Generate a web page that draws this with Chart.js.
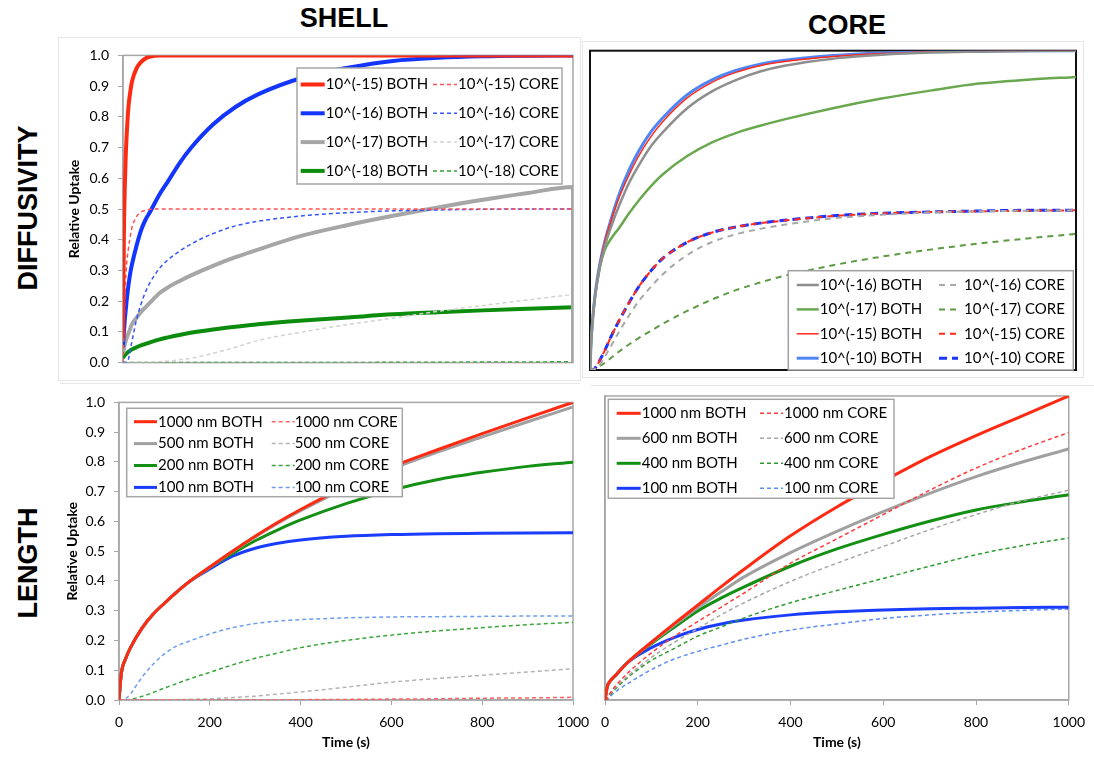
<!DOCTYPE html>
<html>
<head>
<meta charset="utf-8">
<script src="https://cdn.jsdelivr.net/npm/chart.js@4.4.1/dist/chart.umd.min.js"></script>
<style>
  html, body { margin: 0; padding: 0; background: #fff; }
  body { width: 1094px; height: 763px; position: relative; overflow: hidden;
         font-family: "Liberation Sans", Arial, sans-serif; }
  canvas { position: absolute; }
  .head { position: absolute; font-weight: bold; font-size: 27px; line-height: 1;
          color: #000; transform: translateX(-50%); white-space: nowrap; }
  .rowhead { position: absolute; font-weight: bold; font-size: 27px; line-height: 1;
             color: #000; transform: translate(-50%, -50%) rotate(-90deg); white-space: nowrap; }
  .sep { position: absolute; border: 1px solid #e6e6e6; box-sizing: border-box; }
  .hline { position: absolute; height: 0; border-top: 1px solid #e6e6e6; }
</style>
</head>
<body>
<div class="sep" style="left:58px; top:37px; width:523px; height:344px;"></div>
<div class="sep" style="left:582px; top:41px; width:502px; height:337px;"></div>
<div class="hline" style="left:60px; top:383px; width:520px;"></div>
<div class="hline" style="left:590px; top:385px; width:504px;"></div>

<div class="head" style="left:344px; top:5px;">SHELL</div>
<div class="head" style="left:847px; top:12px;">CORE</div>
<div class="rowhead" style="left:28px; top:208px;">DIFFUSIVITY</div>
<div class="rowhead" style="left:28px; top:563px;">LENGTH</div>

<canvas id="shellDiff" width="520" height="342" style="left:60px; top:38px;"></canvas>
<canvas id="coreDiff" width="514" height="342" style="left:580px; top:38px;"></canvas>
<canvas id="shellLen" width="540" height="378" style="left:60px; top:385px;"></canvas>
<canvas id="coreLen" width="504" height="378" style="left:590px; top:385px;"></canvas>

<script>
// ---------- Diffusivity study, shell-limited particles (time in s, relative uptake) ----------
const shellDiffTime = [0, 2, 4, 6, 8, 12, 16, 20, 30, 40, 50, 60, 80, 100, 125, 150, 200, 250, 300, 400, 500, 600, 700, 800, 900, 1000];
const shellD15Both = [0.08, 0.42, 0.57, 0.67, 0.735, 0.83, 0.88, 0.915, 0.958, 0.978, 0.99, 0.996, 1, 1, 1, 1, 1, 1, 1, 1, 1, 1, 1, 1, 1, 1];
const shellD15Core = [0, 0.08, 0.2, 0.27, 0.32, 0.37, 0.41, 0.44, 0.475, 0.49, 0.496, 0.499, 0.5, 0.5, 0.5, 0.5, 0.5, 0.5, 0.5, 0.5, 0.5, 0.5, 0.5, 0.5, 0.5, 0.5];
const shellD16Both = [0.05, 0.1, 0.14, 0.17, 0.2, 0.25, 0.29, 0.32, 0.38, 0.43, 0.465, 0.49, 0.545, 0.59, 0.648, 0.697, 0.775, 0.832, 0.873, 0.928, 0.96, 0.982, 0.992, 0.997, 0.999, 1];
const shellD16Core = [0, 0, 0, 0, 0, 0.01, 0.04, 0.07, 0.14, 0.19, 0.23, 0.26, 0.305, 0.335, 0.362, 0.385, 0.42, 0.445, 0.46, 0.478, 0.488, 0.494, 0.497, 0.499, 0.5, 0.5];
// the 10^(-17) BOTH trace closes with a drop back to zero at t = 1000 s
const shellD17Time = [0, 2, 4, 6, 8, 12, 16, 20, 30, 40, 50, 60, 80, 100, 125, 150, 200, 250, 300, 400, 500, 600, 700, 800, 900, 1000, 1000];
const shellD17Both = [0.03, 0.045, 0.06, 0.07, 0.08, 0.095, 0.11, 0.125, 0.145, 0.165, 0.18, 0.195, 0.225, 0.245, 0.265, 0.283, 0.315, 0.343, 0.368, 0.414, 0.448, 0.478, 0.505, 0.53, 0.552, 0.572, 0];
const shellD17Core = [0, 0, 0, 0, 0, 0, 0, 0, 0, 0, 0, 0.001, 0.003, 0.005, 0.009, 0.014, 0.03, 0.05, 0.072, 0.1, 0.124, 0.145, 0.167, 0.186, 0.204, 0.222];
const shellD18Both = [0.015, 0.02, 0.024, 0.027, 0.03, 0.035, 0.039, 0.043, 0.05, 0.056, 0.061, 0.066, 0.075, 0.082, 0.09, 0.097, 0.108, 0.117, 0.125, 0.137, 0.147, 0.157, 0.164, 0.17, 0.175, 0.18];
const shellD18Core = [0, 0, 0, 0, 0, 0, 0, 0, 0, 0, 0, 0, 0, 0, 0, 0, 0, 0, 0, 0, 0, 0.001, 0.001, 0.002, 0.002, 0.003];

// ---------- Diffusivity study, core-limited particles ----------
const coreDiffTime = [0, 2, 5, 10, 20, 30, 45, 60, 80, 100, 125, 150, 200, 250, 300, 350, 400, 500, 600, 700, 800, 900, 1000];
const coreD16Both = [0, 0.08, 0.15, 0.225, 0.32, 0.385, 0.455, 0.515, 0.585, 0.64, 0.7, 0.745, 0.82, 0.872, 0.908, 0.935, 0.953, 0.975, 0.987, 0.994, 0.997, 0.999, 1];
const coreD16Core = [0, 0, 0, 0.003, 0.015, 0.04, 0.08, 0.12, 0.17, 0.215, 0.26, 0.3, 0.36, 0.4, 0.425, 0.442, 0.455, 0.475, 0.486, 0.493, 0.497, 0.499, 0.5];
const coreD17Both = [0, 0.08, 0.15, 0.225, 0.32, 0.375, 0.415, 0.445, 0.49, 0.53, 0.575, 0.613, 0.67, 0.712, 0.742, 0.765, 0.785, 0.82, 0.85, 0.875, 0.897, 0.909, 0.918];
const coreD17Core = [0, 0, 0, 0.002, 0.012, 0.022, 0.04, 0.058, 0.08, 0.1, 0.122, 0.145, 0.185, 0.22, 0.25, 0.274, 0.295, 0.328, 0.355, 0.377, 0.396, 0.412, 0.426];
const coreD15Both = [0, 0.08, 0.15, 0.23, 0.33, 0.4, 0.475, 0.54, 0.61, 0.67, 0.73, 0.778, 0.852, 0.9, 0.932, 0.953, 0.966, 0.982, 0.991, 0.996, 0.998, 0.999, 1];
const coreD15Core = [0, 0, 0, 0.005, 0.03, 0.06, 0.11, 0.155, 0.21, 0.26, 0.31, 0.35, 0.4, 0.43, 0.448, 0.46, 0.468, 0.482, 0.49, 0.495, 0.497, 0.499, 0.5];
const coreD10Both = [0, 0.08, 0.15, 0.23, 0.33, 0.4, 0.48, 0.55, 0.625, 0.685, 0.745, 0.79, 0.862, 0.908, 0.938, 0.958, 0.97, 0.985, 0.993, 0.997, 0.999, 1, 1];
const coreD10Core = [0, 0, 0, 0.005, 0.03, 0.06, 0.11, 0.155, 0.21, 0.26, 0.31, 0.35, 0.4, 0.43, 0.448, 0.46, 0.469, 0.483, 0.491, 0.495, 0.498, 0.5, 0.5];

// ---------- Particle length study, shell-limited ----------
const shellLenTime = [0, 5, 15, 25, 50, 75, 100, 125, 150, 200, 250, 300, 350, 400, 500, 600, 700, 800, 900, 1000];
const shellL1000Both = [0, 0.088, 0.14, 0.175, 0.24, 0.288, 0.325, 0.36, 0.392, 0.447, 0.5, 0.55, 0.597, 0.64, 0.718, 0.783, 0.84, 0.895, 0.948, 1];
const shellL1000Core = [0, 0, 0, 0, 0, 0, 0, 0, 0, 0, 0, 0, 0, 0.001, 0.002, 0.003, 0.004, 0.006, 0.007, 0.009];
const shellL500Both = [0, 0.088, 0.14, 0.175, 0.24, 0.288, 0.325, 0.36, 0.392, 0.446, 0.499, 0.548, 0.594, 0.636, 0.712, 0.776, 0.832, 0.884, 0.935, 0.985];
const shellL500Core = [0, 0, 0, 0, 0, 0, 0, 0.001, 0.002, 0.004, 0.008, 0.013, 0.02, 0.027, 0.043, 0.06, 0.072, 0.083, 0.094, 0.105];
const shellL200Both = [0, 0.088, 0.14, 0.175, 0.24, 0.288, 0.325, 0.36, 0.392, 0.445, 0.492, 0.535, 0.572, 0.605, 0.66, 0.705, 0.74, 0.765, 0.785, 0.799];
const shellL200Core = [0, 0, 0, 0.002, 0.012, 0.025, 0.04, 0.054, 0.068, 0.093, 0.118, 0.14, 0.158, 0.176, 0.2, 0.218, 0.232, 0.243, 0.253, 0.261];
const shellL100Both = [0, 0.088, 0.14, 0.175, 0.24, 0.288, 0.325, 0.36, 0.392, 0.44, 0.483, 0.51, 0.527, 0.538, 0.55, 0.556, 0.559, 0.56, 0.561, 0.562];
const shellL100Core = [0, 0, 0.005, 0.02, 0.075, 0.12, 0.155, 0.18, 0.195, 0.222, 0.243, 0.257, 0.265, 0.27, 0.276, 0.279, 0.28, 0.281, 0.282, 0.282];

// ---------- Particle length study, core-limited ----------
const coreLenTime = [0, 5, 10, 25, 50, 100, 150, 200, 250, 300, 400, 500, 600, 700, 800, 900, 1000];
const coreL1000Both = [0, 0.045, 0.06, 0.085, 0.125, 0.19, 0.252, 0.312, 0.372, 0.43, 0.54, 0.635, 0.72, 0.8, 0.87, 0.935, 1];
const coreL1000Core = [0, 0.005, 0.02, 0.05, 0.09, 0.155, 0.21, 0.258, 0.305, 0.352, 0.45, 0.53, 0.61, 0.69, 0.763, 0.825, 0.88];
const coreL600Both = [0, 0.045, 0.06, 0.085, 0.125, 0.188, 0.247, 0.303, 0.355, 0.405, 0.485, 0.555, 0.62, 0.68, 0.735, 0.783, 0.826];
const coreL600Core = [0, 0.005, 0.018, 0.045, 0.08, 0.14, 0.19, 0.235, 0.28, 0.32, 0.39, 0.45, 0.505, 0.56, 0.61, 0.655, 0.69];
const coreL400Both = [0, 0.045, 0.06, 0.085, 0.125, 0.185, 0.24, 0.293, 0.335, 0.372, 0.44, 0.497, 0.545, 0.588, 0.625, 0.652, 0.675];
const coreL400Core = [0, 0.004, 0.015, 0.04, 0.075, 0.13, 0.17, 0.21, 0.24, 0.27, 0.32, 0.36, 0.4, 0.44, 0.478, 0.508, 0.533];
const coreL100Both = [0, 0.045, 0.06, 0.085, 0.125, 0.172, 0.206, 0.232, 0.25, 0.263, 0.28, 0.29, 0.296, 0.3, 0.302, 0.304, 0.305];
const coreL100Core = [0, 0.003, 0.01, 0.03, 0.055, 0.1, 0.135, 0.16, 0.18, 0.2, 0.23, 0.25, 0.268, 0.28, 0.289, 0.295, 0.299];

// Axis tick values
const yTickValues = [0, 0.1, 0.2, 0.3, 0.4, 0.5, 0.6, 0.7, 0.8, 0.9, 1.0];
const timeTickValues = [0, 200, 400, 600, 800, 1000];

// ---------- drawing helpers ----------
Chart.defaults.font.family = 'Lato, "Liberation Sans", sans-serif';
Chart.defaults.color = '#000';
Chart.defaults.animation = false;

// Plot-area frame
const frame = {
  id: 'frame',
  beforeDatasetsDraw(chart, args, o) {
    if (!o || !o.color) return;
    const a = chart.chartArea, c = chart.ctx;
    c.save();
    c.strokeStyle = o.color;
    c.lineWidth = o.width;
    c.strokeRect(a.left, a.top, a.right - a.left, a.bottom - a.top);
    c.restore();
  }
};

// Two-column legend: each row holds a BOTH / CORE pair
const pairLegend = {
  id: 'pairLegend',
  afterDatasetsDraw(chart, args, o) {
    if (!o || !o.box) return;
    const c = chart.ctx, b = o.box;
    c.save();
    c.fillStyle = '#fff';
    c.fillRect(b.x, b.y, b.w, b.h);
    c.strokeStyle = o.borderColor;
    c.lineWidth = o.borderWidth;
    c.strokeRect(b.x, b.y, b.w, b.h);
    c.font = o.font;
    c.textBaseline = 'middle';
    chart.data.datasets.forEach((ds, i) => {
      const row = Math.floor(i / 2), col = i % 2;
      const y = o.rowY + row * o.rowPitch;
      const x = o.colX[col];
      c.strokeStyle = ds.borderColor;
      c.lineWidth = ds.borderWidth;
      c.setLineDash(ds.borderDash || []);
      c.beginPath();
      c.moveTo(x, y);
      c.lineTo(x + o.sampleW[col], y);
      c.stroke();
      c.setLineDash([]);
      c.fillStyle = '#000';
      c.textAlign = 'left';
      c.fillText(ds.label, x + o.sampleW[col] + o.gap[col], y);
    });
    c.restore();
  }
};
Chart.register(frame, pairLegend);

function pts(times, values) {
  return times.map((t, i) => ({ x: t, y: values[i] }));
}

function line(label, times, values, color, width, dash) {
  return {
    label, data: pts(times, values),
    borderColor: color, borderWidth: width, borderDash: dash || [],
    pointRadius: 0, fill: false,
    cubicInterpolationMode: 'monotone', tension: 0.4
  };
}

const tickFont = { size: 14, family: 'Lato' };
const titleFont = { size: 14, weight: 'bold', family: 'Lato' };
const axisGrey = '#a6a6a6';

function valueAxis(showLabels, width, titlePad) {
  return {
    type: 'linear', min: 0, max: 1,
    afterBuildTicks: s => { s.ticks = yTickValues.map(v => ({ value: v })); },
    afterFit: s => { s.width = width; },
    ticks: {
      display: showLabels, font: tickFont, padding: 9,
      callback: v => Number(v).toFixed(1)
    },
    grid: { display: showLabels, drawOnChartArea: false, drawTicks: showLabels,
            tickLength: 5, color: axisGrey },
    border: { display: true, color: axisGrey, width: 1.5 },
    title: { display: showLabels, text: 'Relative Uptake', font: titleFont,
             padding: { top: titlePad, bottom: 0 } }
  };
}

function timeAxis(height) {
  return {
    type: 'linear', min: 0, max: 1000,
    afterBuildTicks: s => { s.ticks = timeTickValues.map(v => ({ value: v })); },
    afterFit: s => { s.height = height; },
    ticks: { font: tickFont, padding: 9, maxRotation: 0, callback: v => String(v) },
    grid: { drawOnChartArea: false, drawTicks: true, tickLength: 5, color: axisGrey },
    border: { display: true, color: axisGrey, width: 1.5 },
    title: { display: true, text: 'Time (s)', font: titleFont, padding: { top: 0, bottom: 12 } }
  };
}

function hiddenTime() {
  return { type: 'linear', min: 0, max: 1000, display: false };
}

function makeChart(id, datasets, scales, padding, frameOpts, legendOpts) {
  return new Chart(document.getElementById(id), {
    type: 'line',
    data: { datasets },
    options: {
      responsive: false, devicePixelRatio: 1, animation: false,
      layout: { padding },
      scales,
      plugins: {
        legend: { display: false }, tooltip: { enabled: false },
        frame: frameOpts, pairLegend: legendOpts
      }
    }
  });
}

const legendFont = '15px Lato';

// Shell, diffusivity
const red1 = '#ff2a12', blue1 = '#1235ff', grey1 = '#a6a6a6', green1 = '#0c8c0c';
makeChart('shellDiff', [
  line('10^(-15) BOTH', shellDiffTime, shellD15Both, red1, 4),
  line('10^(-15) CORE', shellDiffTime, shellD15Core, '#ff5050', 1.5, [4, 3]),
  line('10^(-16) BOTH', shellDiffTime, shellD16Both, blue1, 4),
  line('10^(-16) CORE', shellDiffTime, shellD16Core, '#3355ff', 1.5, [4, 3]),
  line('10^(-17) BOTH', shellD17Time, shellD17Both, grey1, 4),
  line('10^(-17) CORE', shellDiffTime, shellD17Core, '#d2d2d2', 1.5, [4, 3]),
  line('10^(-18) BOTH', shellDiffTime, shellD18Both, green1, 4),
  line('10^(-18) CORE', shellDiffTime, shellD18Core, '#33a033', 1.5, [4, 3])
], { x: hiddenTime(), y: valueAxis(true, 63, 6) },
  { left: 0, top: 11, right: 7, bottom: 10 },
  { color: axisGrey, width: 1.5 },
  { box: { x: 237, y: 30, w: 265, h: 116 }, borderColor: '#a6a6a6', borderWidth: 1.5,
    font: legendFont, rowY: 46.5, rowPitch: 28.8, colX: [240.7, 373], sampleW: [24, 24], gap: [1, 1] });

// Core, diffusivity
makeChart('coreDiff', [
  line('10^(-16) BOTH', coreDiffTime, coreD16Both, '#8e8e8e', 2.5),
  line('10^(-16) CORE', coreDiffTime, coreD16Core, '#a8a8a8', 2, [6, 5]),
  line('10^(-17) BOTH', coreDiffTime, coreD17Both, '#6aa84f', 2.5),
  line('10^(-17) CORE', coreDiffTime, coreD17Core, '#5e9a44', 2, [6, 5]),
  line('10^(-15) BOTH', coreDiffTime, coreD15Both, '#ff2a1a', 1.5),
  line('10^(-15) CORE', coreDiffTime, coreD15Core, '#ff2a1a', 2, [6, 5]),
  line('10^(-10) BOTH', coreDiffTime, coreD10Both, '#4f86f7', 3),
  line('10^(-10) CORE', coreDiffTime, coreD10Core, '#1a35ff', 3, [8, 5])
], { x: hiddenTime(), y: { type: 'linear', min: 0, max: 1, display: false } },
  { left: 10, top: 12.7, right: 18, bottom: 10 },
  { color: '#111', width: 2 },
  { box: { x: 208.3, y: 232.7, w: 285, h: 99.3 }, borderColor: '#a0a0a0', borderWidth: 1.5,
    font: legendFont, rowY: 247, rowPitch: 24.4, colX: [216.7, 359], sampleW: [22, 19], gap: [1, 6] });

// Shell, length
makeChart('shellLen', [
  line('1000 nm BOTH', shellLenTime, shellL1000Both, '#ff2a12', 3),
  line('1000 nm CORE', shellLenTime, shellL1000Core, '#ff6060', 1.5, [4, 3]),
  line('500 nm BOTH', shellLenTime, shellL500Both, '#a0a0a0', 3),
  line('500 nm CORE', shellLenTime, shellL500Core, '#b4b4b4', 1.5, [4, 3]),
  line('200 nm BOTH', shellLenTime, shellL200Both, '#139013', 3),
  line('200 nm CORE', shellLenTime, shellL200Core, '#3aa63a', 1.5, [4, 3]),
  line('100 nm BOTH', shellLenTime, shellL100Both, '#1a3cff', 3),
  line('100 nm CORE', shellLenTime, shellL100Core, '#6d9eeb', 1.5, [4, 3])
], { x: timeAxis(63), y: valueAxis(true, 59, 4) },
  { left: 0, top: 17, right: 27, bottom: 0 },
  { color: axisGrey, width: 1.5 },
  { box: { x: 66.7, y: 23.3, w: 275.6, h: 88.4 }, borderColor: '#a6a6a6', borderWidth: 1.5,
    font: legendFont, rowY: 36.7, rowPitch: 21.9, colX: [74, 211.7], sampleW: [23, 23], gap: [1, 0] });

// Core, length
makeChart('coreLen', [
  line('1000 nm BOTH', coreLenTime, coreL1000Both, '#ff2a12', 3),
  line('1000 nm CORE', coreLenTime, coreL1000Core, '#ff3c3c', 1.5, [4, 3]),
  line('600 nm BOTH', coreLenTime, coreL600Both, '#a0a0a0', 3),
  line('600 nm CORE', coreLenTime, coreL600Core, '#a8a8a8', 1.5, [4, 3]),
  line('400 nm BOTH', coreLenTime, coreL400Both, '#139013', 3),
  line('400 nm CORE', coreLenTime, coreL400Core, '#2f9a2f', 1.5, [4, 3]),
  line('100 nm BOTH', coreLenTime, coreL100Both, '#1a3cff', 3),
  line('100 nm CORE', coreLenTime, coreL100Core, '#5b8ef0', 1.5, [4, 3])
], { x: timeAxis(63), y: valueAxis(false, 15, 0) },
  { left: 0, top: 11, right: 22, bottom: 0 },
  { color: axisGrey, width: 1.5 },
  { box: { x: 18.3, y: 14.3, w: 285.7, h: 99 }, borderColor: '#a6a6a6', borderWidth: 1.5,
    font: legendFont, rowY: 28.3, rowPitch: 25, colX: [26.7, 170], sampleW: [24, 23], gap: [1, 1] });
</script>
</body>
</html>
